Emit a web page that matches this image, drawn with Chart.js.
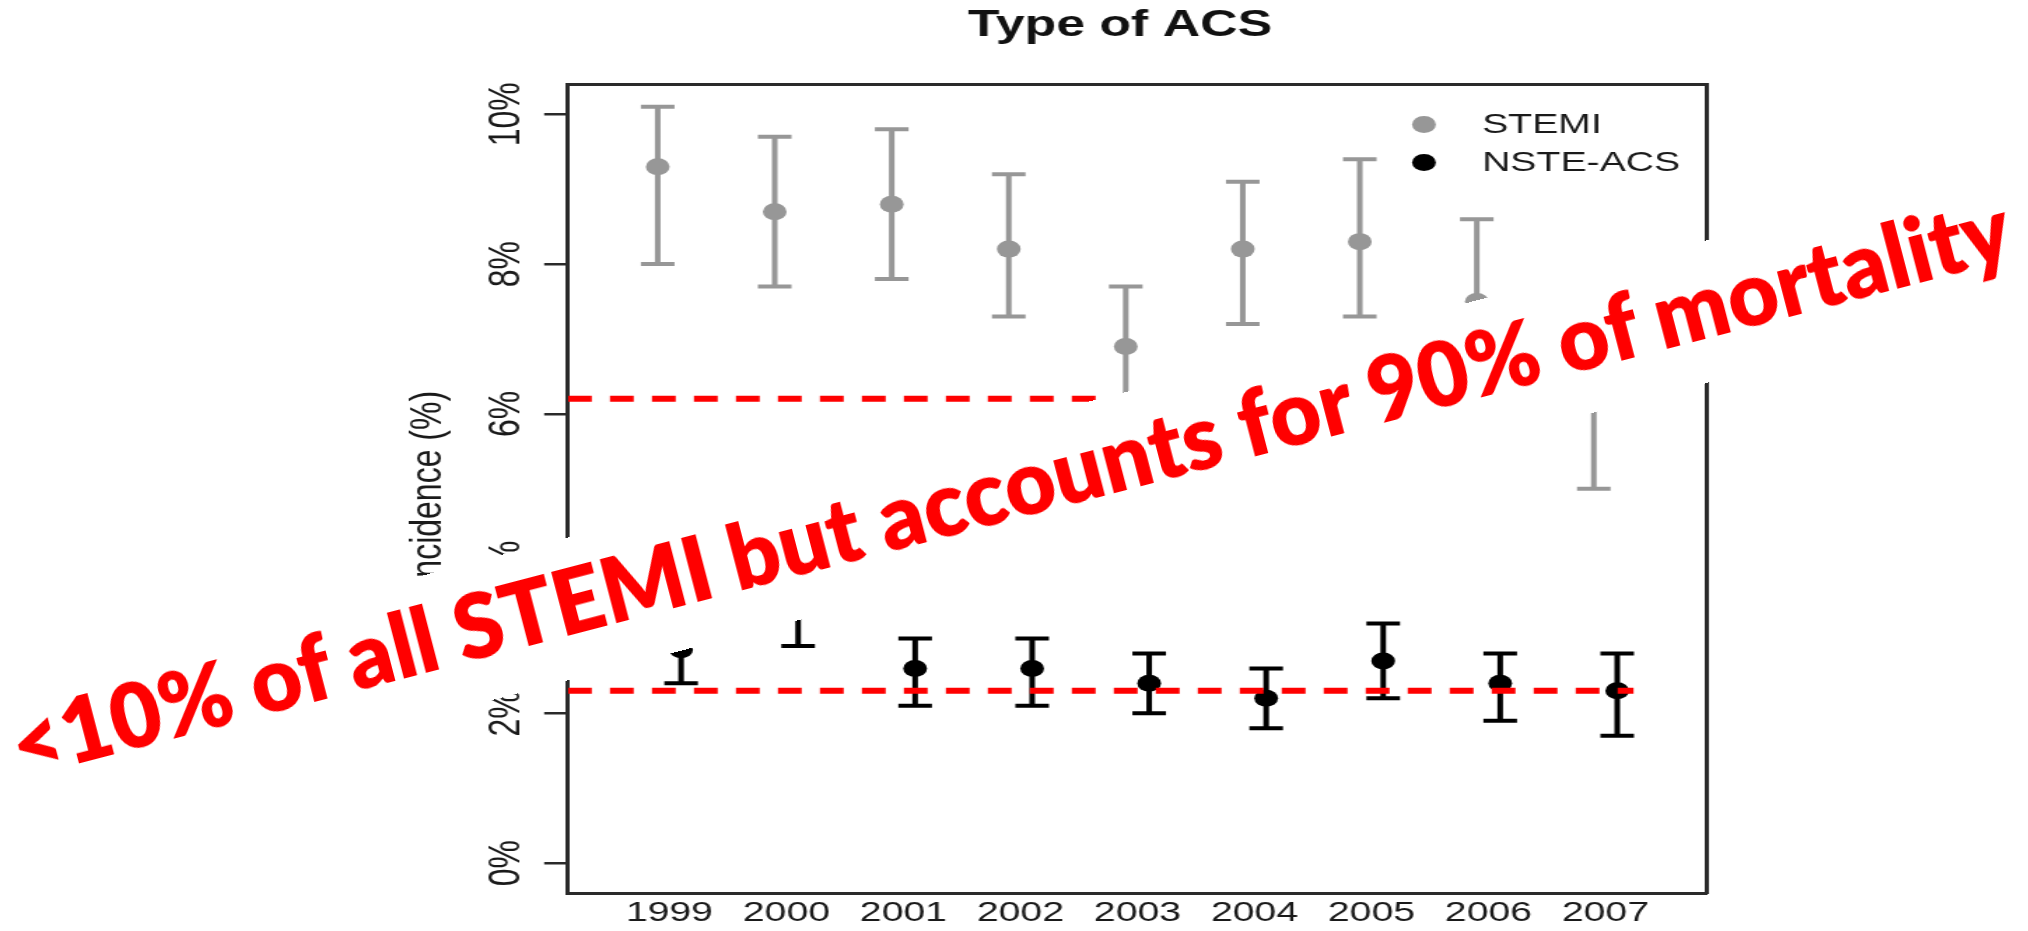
<!DOCTYPE html>
<html>
<head>
<meta charset="utf-8">
<title>Type of ACS</title>
<script src="https://cdn.jsdelivr.net/npm/chart.js@4.4.1/dist/chart.umd.min.js"></script>
<style>
  html, body { margin: 0; padding: 0; background: #fff; overflow: hidden; }
  body { width: 2028px; height: 931px; position: relative; }
  /* the plot is laid out narrow and widened horizontally */
  #plot { position: absolute; left: 0; top: 0; width: 1449px; height: 931px;
          transform-origin: 0 0; transform: scaleX(1.39959); }
  #note { position: absolute; left: -88px; top: 423.6px; width: 2200px; height: 138px;
          background: #fff; display: flex; align-items: center; justify-content: center;
          white-space: nowrap; transform-origin: 50% 50%; transform: rotate(-14.63deg); }
  #noteText { display: inline-block; color: #ff0000; font-family: Lato, "Open Sans", sans-serif;
              font-weight: 800; font-size: 90px; line-height: 1; }
</style>
</head>
<body>
<div id="plot"><canvas id="chart"></canvas></div>
<div id="note"><span id="noteText">&lt;10% of all STEMI but accounts for 90% of mortality</span></div>
<script>
// Incidence by year, point estimate with lower / upper confidence limits (%)
const years = [1999, 2000, 2001, 2002, 2003, 2004, 2005, 2006, 2007];
const yearLabels = ['1999', '2000', '2001', '2002', '2003', '2004', '2005', '2006', '2007'];

const stemiRate  = [9.3, 8.7, 8.8, 8.2, 6.9, 8.2, 8.3, 7.5, 6.2];
const stemiLower = [8.0, 7.7, 7.8, 7.3, 6.1, 7.2, 7.3, 6.4, 5.0];
const stemiUpper = [10.1, 9.7, 9.8, 9.2, 7.7, 9.1, 9.4, 8.6, 7.3];

const nsteRate  = [2.85, 3.4, 2.6, 2.6, 2.4, 2.2, 2.7, 2.4, 2.3];
const nsteLower = [2.4, 2.9, 2.1, 2.1, 2.0, 1.8, 2.2, 1.9, 1.7];
const nsteUpper = [3.3, 3.9, 3.0, 3.0, 2.8, 2.6, 3.2, 2.8, 2.8];

const seriesNames = ['STEMI', 'NSTE-ACS'];

const percentTicks  = [0, 2, 4, 6, 8, 10];
const percentLabels = ['0%', '2%', '4%', '6%', '8%', '10%'];

// dashed reference levels (%) and the year each one runs to
const refLevels = [6.2, 2.3];
const refEnds   = [2003.2, 2007.24];

// ---- styling ----
const X_MIN = 1998.133, X_MAX = 2007.867;
const Y_MIN = -0.4, Y_MAX = 10.4;
const DODGE = 0.1;
const GREY = '#979797';
const BLACK = '#000000';
const AXIS = '#2a2a2a';
const TEXT = '#1a1a1a';
const FONT = "'Liberation Sans', Arial, Helvetica, sans-serif";

function pointsOf(values, offset) {
  return years.map((yr, i) => ({ x: yr + offset, y: values[i] }));
}
function whiskers(lower, upper, offset) {
  const pts = [];
  years.forEach((yr, i) => {
    const x = yr + offset;
    pts.push({ x, y: lower[i] }, { x, y: upper[i] }, { x, y: null });
  });
  return pts;
}
function whiskerSet(label, lower, upper, offset, color) {
  return {
    label, data: whiskers(lower, upper, offset), order: 2, showLine: true, spanGaps: false,
    borderColor: color, borderWidth: 4, fill: false,
    pointStyle: 'line', pointRadius: 12, pointHoverRadius: 12,
    pointBorderColor: color, pointBorderWidth: 4, pointBackgroundColor: color
  };
}
function estimateSet(label, values, offset, color) {
  return {
    label, data: pointsOf(values, offset), order: 1, showLine: false, legendEntry: true,
    pointStyle: 'circle', pointRadius: 8.5, pointHoverRadius: 8.5,
    pointBackgroundColor: color, pointBorderColor: color, pointBorderWidth: 0
  };
}
function refSet(i) {
  return {
    label: 'ref' + i, data: [{ x: X_MIN, y: refLevels[i] }, { x: refEnds[i], y: refLevels[i] }],
    order: 0, showLine: true, borderColor: '#ff0000', borderWidth: 6, borderDash: [17, 13],
    pointRadius: 0, pointHoverRadius: 0, fill: false
  };
}

// legend drawn inside the top-right corner of the plot
const insetLegend = {
  id: 'insetLegend',
  afterDatasetsDraw(chart, args, opts) {
    const { ctx, chartArea } = chart;
    const entries = chart.data.datasets.filter(d => d.legendEntry);
    ctx.save();
    ctx.font = `${opts.fontSize}px ${FONT}`;
    ctx.textBaseline = 'middle';
    ctx.textAlign = 'left';
    entries.forEach((d, i) => {
      const y = chartArea.top + opts.firstRow + i * opts.rowGap;
      ctx.beginPath();
      ctx.fillStyle = d.pointBackgroundColor;
      ctx.arc(chartArea.right - opts.markerInset, y, opts.markerRadius, 0, Math.PI * 2);
      ctx.fill();
      ctx.fillStyle = TEXT;
      ctx.fillText(d.label, chartArea.right - opts.textInset, y + 1);
    });
    ctx.restore();
  }
};

new Chart(document.getElementById('chart'), {
  type: 'line',
  data: {
    datasets: [
      refSet(0), refSet(1),
      estimateSet(seriesNames[0], stemiRate, -DODGE, GREY),
      estimateSet(seriesNames[1], nsteRate, DODGE, BLACK),
      whiskerSet(seriesNames[0] + ' CI', stemiLower, stemiUpper, -DODGE, GREY),
      whiskerSet(seriesNames[1] + ' CI', nsteLower, nsteUpper, DODGE, BLACK)
    ]
  },
  options: {
    responsive: true,
    maintainAspectRatio: false,
    devicePixelRatio: 1,
    animation: false,
    events: [],
    layout: { padding: { left: 280, right: 128.6, top: 0, bottom: 0 } },
    scales: {
      x: {
        type: 'linear', position: 'bottom', min: X_MIN, max: X_MAX,
        afterFit: s => { s.height = 38; },
        grid: { display: false, drawTicks: false },
        border: { display: true, color: AXIS, width: 3 },
        ticks: {
          stepSize: 1, includeBounds: false, autoSkip: false, maxRotation: 0, padding: 3,
          color: TEXT, font: { family: FONT, size: 28 },
          callback: v => { const i = years.indexOf(v); return i >= 0 ? yearLabels[i] : ''; }
        }
      },
      xTop: {
        type: 'linear', position: 'top', min: X_MIN, max: X_MAX,
        afterFit: s => { s.height = 36; },
        grid: { display: false, drawTicks: false },
        border: { display: true, color: AXIS, width: 3 },
        ticks: { display: false }
      },
      y: {
        type: 'linear', position: 'left', min: Y_MIN, max: Y_MAX,
        afterFit: s => { s.width = 125.8; },
        grid: { display: true, drawOnChartArea: false, drawTicks: true, tickLength: 17, color: AXIS, lineWidth: 2.5 },
        border: { display: true, color: AXIS, width: 3 },
        ticks: {
          stepSize: 2, includeBounds: false, minRotation: 90, maxRotation: 90,
          crossAlign: 'center', padding: -5.5, color: TEXT, font: { family: FONT, size: 32 },
          callback: v => { const i = percentTicks.indexOf(v); return i >= 0 ? percentLabels[i] : ''; }
        },
        title: {
          display: true, text: 'Incidence (%)', color: TEXT,
          font: { family: FONT, size: 32 }, padding: { top: 6.6, bottom: 0 }
        }
      },
      yRight: {
        type: 'linear', position: 'right',
        afterFit: s => { s.width = 100.8; },
        grid: { display: false, drawTicks: false },
        border: { display: true, color: AXIS, width: 3 },
        ticks: { display: false }
      }
    },
    plugins: {
      legend: { display: false },
      tooltip: { enabled: false },
      title: {
        display: true, text: 'Type of ACS', color: '#111',
        font: { family: FONT, size: 37, weight: 'bold' }, padding: { top: 4, bottom: 0 }
      },
      insetLegend: { fontSize: 28, firstRow: 40, rowGap: 38, markerInset: 202.2, textInset: 160.7, markerRadius: 8.5 }
    }
  },
  plugins: [insetLegend]
});

// fit the annotation to its run length along the slanted band
function fitNote() {
  const span = document.getElementById('noteText');
  const w = span.offsetWidth;
  if (w > 0) span.style.transform = `translateY(-9px) scaleX(${2062 / w})`;
}
fitNote();
if (document.fonts && document.fonts.ready) document.fonts.ready.then(fitNote);
</script>
</body>
</html>
